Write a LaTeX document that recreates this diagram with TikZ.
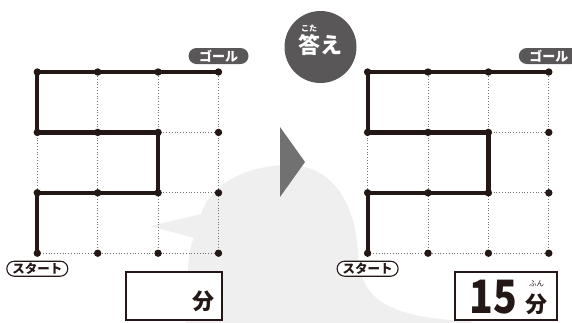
\documentclass[tikz,border=0pt]{standalone}
\usepackage{fontspec}
\usepackage{tikz}
\newfontfamily\jp{Noto Sans CJK JP}
\definecolor{inkblack}{HTML}{231815}
\definecolor{darkgrey}{HTML}{595757}
\definecolor{midgrey}{HTML}{727171}
\definecolor{palegrey}{HTML}{EFEFEF}

\begin{document}
\begin{tikzpicture}[x=1pt,y=-1pt,
  gridline/.style={dotted,line width=0.8pt,color=midgrey},
  route/.style={line width=4.2pt,color=inkblack,line join=miter},
  goalpill/.style={rounded corners=8pt,fill=darkgrey,text=white,minimum width=60pt,minimum height=16pt,inner sep=0pt,font=\jp\bfseries\fontsize{13}{13}\selectfont},
  startpill/.style={rounded corners=7.5pt,draw=inkblack,line width=1.1pt,fill=white,text=inkblack,minimum width=61pt,minimum height=15pt,inner sep=0pt,font=\jp\bfseries\fontsize{12.5}{12.5}\selectfont},
  answerbox/.style={draw=inkblack,line width=2.6pt,fill=white,minimum height=48pt,inner sep=0pt}]
  \useasboundingbox (0,0) rectangle (572,322);

  % Background figure
  \fill[palegrey] (186,330) -- (187,285) .. controls (188,260) and (190,245) .. (194,238)
    -- (150,226) -- (201,214) .. controls (210,185) and (245,165) .. (290,165)
    .. controls (330,166) and (356,200) .. (358,255)
    .. controls (360,300) and (390,318) .. (470,321) -- (480,330) -- cycle;

  % Arrow and answer badge
  \fill[midgrey] (280,127) -- (305,162) -- (280,197) -- cycle;
  \fill[darkgrey] (320.5,47) circle (36);
  \node[text=white,font=\jp\bfseries\fontsize{22}{22}\selectfont] (kotae) at (320.5,45) {答え};
  \node[text=white,font=\jp\bfseries\fontsize{8}{8}\selectfont] (kotaeruby) at (309,28) {こた};

  % Grids: L = question, R = answer
  \foreach \g/\xo in {L/37.3,R/367.6} {
    \foreach \i in {0,...,3}
      \foreach \j in {0,...,3}
        \coordinate (\g\i\j) at ({\xo+60.4*\i},{253.2-60.4*\j});
    \foreach \k in {0,...,3} {
      \draw[gridline] (\g\k0) -- (\g\k3);
      \draw[gridline] (\g0\k) -- (\g3\k);
    }
    \draw[route] (\g00) -- (\g01) -- (\g21) -- (\g22) -- (\g02) -- (\g03) -- (\g33);
    \foreach \i in {0,...,3}
      \foreach \j in {0,...,3}
        \fill[inkblack] (\g\i\j) circle (3.7);
    \node[goalpill] (\g goal) at ([yshift=16pt]\g33) {ゴール};
    \node[startpill] (\g start) at ([yshift=-15.5pt]\g00) {スタート};
  }

  % Answer boxes
  \node[answerbox,minimum width=96pt] (ansL) at (174,296) {};
  \node[text=inkblack,font=\jp\bfseries\fontsize{22}{22}\selectfont] (funL) at (203,301) {分};
  \node[answerbox,minimum width=102pt] (ansR) at (506,296) {};
  \node[text=inkblack,xscale=0.85,font=\jp\bfseries\fontsize{46}{46}\selectfont] (minutes) at (493,297) {15};
  \node[text=inkblack,font=\jp\bfseries\fontsize{22}{22}\selectfont] (funR) at (536.5,304) {分};
  \node[text=inkblack,font=\jp\fontsize{7.5}{7.5}\selectfont] (funruby) at (536.5,284) {ふん};
\end{tikzpicture}
\end{document}
